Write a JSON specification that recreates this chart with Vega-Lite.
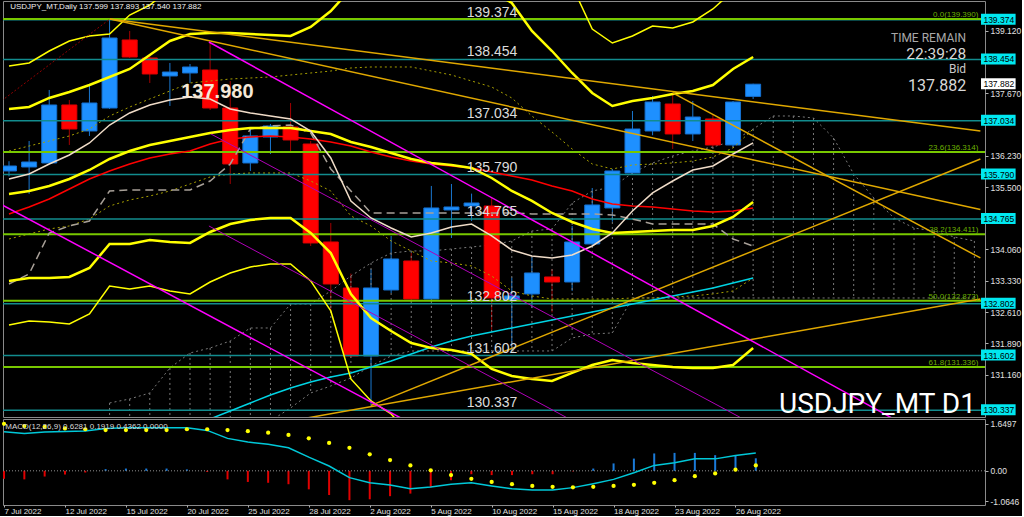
{
  "$schema": "https://vega.github.io/schema/vega-lite/v6.json",
  "background": "#000000",
  "padding": 0,
  "spacing": 2,
  "bounds": "flush",
  "config": {
    "view": {"stroke": "#8a8a8a", "strokeWidth": 1},
    "font": "Liberation Sans",
    "axis": {"grid": false, "domain": false, "labelColor": "#e0e0e0", "labelFont": "Liberation Sans", "labelFontSize": 8.5, "tickColor": "#b0b0b0", "tickSize": 3, "labelPadding": 2}
  },
  "datasets": {
    "bars": [
      {"i":0,"o":135.874,"h":136.1,"l":135.75,"c":135.989,"r":134.879,"w":135.689,"m":135.342,"u2":137.308,"l2":133.329,"u3":138.303,"l3":132.311,"s1":136.336,"s1n":134.3,"t":133.259},
      {"i":1,"o":135.966,"h":136.568,"l":135.342,"c":136.082,"r":135.041,"w":135.804,"m":135.411,"u2":137.354,"l2":133.398,"u3":138.373,"l3":132.403,"s1":136.452,"s1n":134.416,"t":133.491},
      {"i":2,"o":136.059,"h":137.748,"l":136.04,"c":137.401,"r":135.226,"w":136.036,"m":135.527,"u2":137.563,"l2":133.398,"u3":138.65,"l3":132.38,"s1":136.568,"s1n":134.532,"t":134.439},
      {"i":3,"o":137.401,"h":137.516,"l":136.475,"c":136.845,"r":135.457,"w":136.244,"m":135.689,"u2":137.701,"l2":133.421,"u3":138.882,"l3":132.334,"s1":136.684,"s1n":134.601,"t":134.601},
      {"i":4,"o":136.799,"h":137.887,"l":136.684,"c":137.447,"r":135.689,"w":136.522,"m":135.897,"u2":137.863,"l2":133.629,"u3":138.997,"l3":132.565,"s1":136.845,"s1n":134.763,"t":134.717},
      {"i":5,"o":137.331,"h":139.391,"l":137.308,"c":138.951,"r":135.874,"w":136.938,"m":136.151,"u2":138.049,"l2":134.185,"u3":139.043,"l3":133.213,"s1":137.146,"s1n":135.064,"t":135.411},
      {"i":6,"o":138.905,"h":139.113,"l":138.488,"c":138.511,"r":136.036,"w":137.216,"m":136.336,"u2":138.234,"l2":134.185,"u3":139.483,"l3":133.144,"s1":137.354,"s1n":135.203,"t":135.434},
      {"i":7,"o":138.488,"h":138.581,"l":137.91,"c":138.118,"r":136.174,"w":137.401,"m":136.475,"u2":138.557,"l2":134.277,"u3":139.714,"l3":133.213,"s1":137.54,"s1n":135.295,"t":135.434},
      {"i":8,"o":138.072,"h":138.373,"l":137.378,"c":138.164,"r":136.267,"w":137.516,"m":136.568,"u2":138.882,"l2":134.231,"u3":140.085,"l3":133.097,"s1":137.725,"s1n":135.411,"t":135.434,"cy":129.789},
      {"i":9,"o":138.141,"h":138.349,"l":137.91,"c":138.28,"r":136.336,"w":137.586,"m":136.66,"u2":139.043,"l2":134.208,"u3":140.339,"l3":133.028,"s1":137.91,"s1n":135.573,"t":135.434,"cy":129.974},
      {"i":10,"o":138.211,"h":138.858,"l":137.285,"c":137.331,"r":136.498,"w":137.54,"m":136.753,"u2":139.067,"l2":134.462,"u3":140.177,"l3":133.305,"s1":137.956,"s1n":135.735,"t":135.642,"cy":130.136},
      {"i":11,"o":137.331,"h":137.956,"l":135.573,"c":136.036,"r":136.614,"w":137.308,"m":136.822,"u2":139.067,"l2":134.647,"u3":140.27,"l3":133.514,"s1":138.002,"s1n":135.804,"t":136.036,"cy":130.321},
      {"i":12,"o":136.059,"h":136.845,"l":135.874,"c":136.684,"r":136.66,"w":137.216,"m":136.869,"u2":139.043,"l2":134.74,"u3":140.385,"l3":133.653,"s1":138.025,"s1n":135.827,"t":136.845,"cy":130.506},
      {"i":13,"o":136.66,"h":136.961,"l":136.267,"c":136.915,"r":136.684,"w":137.146,"m":136.869,"u2":139.02,"l2":134.786,"u3":140.432,"l3":133.722,"s1":138.049,"s1n":135.827,"t":136.915,"cy":130.691},
      {"i":14,"o":136.892,"h":137.447,"l":136.336,"c":136.591,"r":136.66,"w":137.077,"m":136.869,"u2":138.997,"l2":134.786,"u3":140.501,"l3":133.722,"s1":138.095,"s1n":135.827,"t":136.938,"cy":130.853},
      {"i":15,"o":136.498,"h":136.568,"l":134.138,"c":134.208,"r":136.614,"w":136.799,"m":136.799,"u2":139.205,"l2":134.439,"u3":140.339,"l3":133.329,"s1":138.141,"s1n":135.642,"t":136.753,"cy":130.992},
      {"i":16,"o":134.231,"h":134.671,"l":132.6,"c":133.259,"r":136.545,"w":136.174,"m":136.73,"u2":139.576,"l2":133.976,"u3":140.732,"l3":132.635,"s1":138.187,"s1n":135.411,"t":135.92,"cy":131.107},
      {"i":17,"o":133.167,"h":133.5,"l":131.55,"c":131.593,"r":136.452,"w":135.18,"m":136.545,"u2":140.085,"l2":133.028,"u3":141.195,"l3":131.061,"s1":138.257,"s1n":134.833,"t":135.411,"cy":131.2},
      {"i":18,"o":131.593,"h":133.6,"l":130.42,"c":133.167,"r":136.313,"w":134.786,"m":136.429,"u2":140.385,"l2":132.473,"u3":141.658,"l3":130.552,"s1":138.28,"s1n":134.601,"t":134.902,"cy":131.339},
      {"i":19,"o":133.12,"h":134.37,"l":133.05,"c":133.838,"r":136.198,"w":134.555,"m":136.29,"u2":140.409,"l2":132.172,"u3":142.121,"l3":130.251,"s1":138.28,"s1n":134.254,"t":134.902,"cy":131.478},
      {"i":20,"o":133.791,"h":133.976,"l":132.85,"c":132.912,"r":136.105,"w":134.347,"m":136.151,"u2":140.409,"l2":131.894,"u3":142.537,"l3":129.742,"s1":138.28,"s1n":134.023,"t":134.902,"cy":131.64},
      {"i":21,"o":132.912,"h":135.527,"l":132.866,"c":135.018,"r":136.036,"w":134.439,"m":136.059,"u2":140.339,"l2":131.778,"u3":142.583,"l3":129.65,"s1":138.187,"s1n":133.791,"t":134.902,"cy":131.802},
      {"i":22,"o":134.971,"h":135.573,"l":134.323,"c":135.041,"r":135.989,"w":134.578,"m":136.013,"u2":140.293,"l2":131.732,"u3":142.583,"l3":129.627,"s1":138.095,"s1n":133.745,"t":134.902,"cy":131.94},
      {"i":23,"o":135.064,"h":135.35,"l":134.717,"c":135.133,"r":135.943,"w":134.647,"m":135.943,"u2":140.247,"l2":131.64,"u3":142.583,"l3":129.511,"s1":137.956,"s1n":133.676,"t":134.902,"cy":132.056},
      {"i":24,"o":135.064,"h":135.272,"l":132.2,"c":132.935,"r":135.851,"w":134.37,"m":135.712,"u2":140.038,"l2":131.293,"u3":142.352,"l3":129.164,"s1":137.817,"s1n":133.444,"t":134.902,"cy":132.149},
      {"i":25,"o":132.889,"h":133.41,"l":131.7,"c":132.982,"r":135.758,"w":134.046,"m":135.411,"u2":139.761,"l2":131.131,"u3":141.82,"l3":129.002,"s1":137.563,"s1n":133.097,"t":134.902,"cy":132.241},
      {"i":26,"o":133.028,"h":133.88,"l":132.7,"c":133.514,"r":135.665,"w":133.907,"m":135.18,"u2":139.113,"l2":131.061,"u3":141.427,"l3":128.933,"s1":137.146,"s1n":132.982,"t":134.879,"cy":132.334},
      {"i":27,"o":133.421,"h":133.606,"l":132.6,"c":133.305,"r":135.527,"w":133.861,"m":134.902,"u2":138.65,"l2":131.015,"u3":140.732,"l3":128.933,"s1":136.776,"s1n":132.912,"t":134.879,"cy":132.426},
      {"i":28,"o":133.305,"h":134.6,"l":133.1,"c":134.231,"r":135.411,"w":133.93,"m":134.694,"u2":138.141,"l2":131.2,"u3":140.154,"l3":129.442,"s1":136.383,"s1n":132.912,"t":134.879,"cy":132.519},
      {"i":29,"o":134.185,"h":135.48,"l":134.1,"c":135.087,"r":135.226,"w":134.138,"m":134.532,"u2":137.678,"l2":131.385,"u3":139.159,"l3":129.858,"s1":136.036,"s1n":132.912,"t":134.879,"cy":132.611},
      {"i":30,"o":135.018,"h":135.92,"l":134.7,"c":135.874,"r":135.11,"w":134.439,"m":134.439,"u2":137.378,"l2":131.501,"u3":138.835,"l3":130.043,"s1":135.92,"s1n":132.912,"t":134.856,"cy":132.704},
      {"i":31,"o":135.827,"h":137.262,"l":135.8,"c":136.845,"r":135.064,"w":134.948,"m":134.462,"u2":137.493,"l2":131.431,"u3":138.997,"l3":129.974,"s1":136.013,"s1n":132.935,"t":134.763,"cy":132.796},
      {"i":32,"o":136.799,"h":137.609,"l":136.7,"c":137.47,"r":135.041,"w":135.365,"m":134.485,"u2":137.563,"l2":131.385,"u3":139.229,"l3":129.858,"s1":136.036,"s1n":132.935,"t":134.647,"cy":132.889},
      {"i":33,"o":137.424,"h":137.64,"l":136.383,"c":136.73,"r":134.995,"w":135.642,"m":134.509,"u2":137.655,"l2":131.339,"u3":139.182,"l3":129.766,"s1":136.059,"s1n":132.958,"t":134.647,"cy":132.982},
      {"i":34,"o":136.73,"h":137.493,"l":136.568,"c":137.123,"r":134.948,"w":135.897,"m":134.509,"u2":137.725,"l2":131.316,"u3":139.321,"l3":129.696,"s1":136.105,"s1n":132.982,"t":134.647,"cy":133.074},
      {"i":35,"o":137.077,"h":137.192,"l":136.406,"c":136.475,"r":134.925,"w":135.989,"m":134.601,"u2":137.863,"l2":131.316,"u3":139.622,"l3":129.858,"s1":136.198,"s1n":133.028,"t":134.647,"cy":133.167},
      {"i":36,"o":136.475,"h":137.493,"l":136.429,"c":137.47,"r":134.948,"w":136.267,"m":134.809,"u2":138.234,"l2":131.385,"u3":140.038,"l3":129.858,"s1":136.406,"s1n":133.097,"t":134.3,"cy":133.282},
      {"i":37,"o":137.599,"h":137.893,"l":137.54,"c":137.882,"r":135.018,"w":136.522,"m":135.156,"u2":138.511,"l2":131.778,"u3":140.385,"l3":130.089,"s1":136.845,"s1n":133.398,"t":134.138,"cy":133.398}
    ],
    "cloud": [
      {"i":5,"cu":130.506,"cl":129.627},{"i":6,"cu":130.598,"cl":129.627},{"i":7,"cu":130.737,"cl":129.627},{"i":8,"cu":131.316,"cl":129.627},{"i":9,"cu":131.663,"cl":129.627},{"i":10,"cu":131.778,"cl":129.627},{"i":11,"cu":131.94,"cl":129.627},{"i":12,"cu":132.241,"cl":129.858},{"i":13,"cu":132.241,"cl":130.089},{"i":14,"cu":132.796,"cl":130.39},{"i":15,"cu":132.796,"cl":130.737},{"i":16,"cu":133.097,"cl":130.899},{"i":17,"cu":133.444,"cl":131.084},{"i":18,"cu":133.745,"cl":131.362},{"i":19,"cu":133.976,"cl":131.593},{"i":20,"cu":134.023,"cl":131.709},{"i":21,"cu":134.023,"cl":131.709},{"i":22,"cu":134.069,"cl":131.709},{"i":23,"cu":134.115,"cl":131.709},{"i":24,"cu":134.162,"cl":131.709},{"i":25,"cu":134.254,"cl":131.709},{"i":26,"cu":134.485,"cl":131.709},{"i":27,"cu":134.532,"cl":131.709},{"i":28,"cu":135.133,"cl":132.01},{"i":29,"cu":135.411,"cl":132.102},{"i":30,"cu":135.504,"cl":132.126},{"i":31,"cu":135.827,"cl":132.935},{"i":32,"cu":136.059,"cl":132.935},{"i":33,"cu":136.221,"cl":132.935},{"i":34,"cu":136.336,"cl":132.935},{"i":35,"cu":136.429,"cl":132.935},{"i":36,"cu":136.568,"cl":132.935},{"i":37,"cu":136.845,"cl":132.935},{"i":38,"cu":137.146,"cl":132.935},{"i":39,"cu":137.146,"cl":132.935},{"i":40,"cu":137.1,"cl":132.935},{"i":41,"cu":136.637,"cl":132.935},{"i":42,"cu":135.804,"cl":132.935},{"i":43,"cu":135.249,"cl":132.935},{"i":44,"cu":134.786,"cl":132.935},{"i":45,"cu":134.555,"cl":132.935},{"i":46,"cu":134.485,"cl":132.935},{"i":47,"cu":134.347,"cl":132.935},{"i":48,"cu":134.254,"cl":132.935}
    ],
    "macd": [
      {"i":0,"macd":1.37,"sig":1.65,"hist":-0.28},{"i":1,"macd":1.31,"sig":1.57,"hist":-0.3},{"i":2,"macd":1.36,"sig":1.54,"hist":-0.2},{"i":3,"macd":1.38,"sig":1.49,"hist":-0.13},{"i":4,"macd":1.4,"sig":1.46,"hist":-0.06},{"i":5,"macd":1.49,"sig":1.43,"hist":0.06},{"i":6,"macd":1.51,"sig":1.43,"hist":0.08},{"i":7,"macd":1.51,"sig":1.43,"hist":0.08},{"i":8,"macd":1.51,"sig":1.43,"hist":0.08},{"i":9,"macd":1.51,"sig":1.46,"hist":0.05},{"i":10,"macd":1.42,"sig":1.46,"hist":-0.04},{"i":11,"macd":1.14,"sig":1.43,"hist":-0.3},{"i":12,"macd":1.01,"sig":1.39,"hist":-0.39},{"i":13,"macd":0.93,"sig":1.34,"hist":-0.42},{"i":14,"macd":0.81,"sig":1.26,"hist":-0.47},{"i":15,"macd":0.48,"sig":1.14,"hist":-0.65},{"i":16,"macd":0.17,"sig":0.98,"hist":-0.85},{"i":17,"macd":-0.24,"sig":0.81,"hist":-1.03},{"i":18,"macd":-0.42,"sig":0.58,"hist":-1.0},{"i":19,"macd":-0.5,"sig":0.38,"hist":-0.89},{"i":20,"macd":-0.63,"sig":0.19,"hist":-0.8},{"i":21,"macd":-0.57,"sig":0.02,"hist":-0.58},{"i":22,"macd":-0.47,"sig":-0.15,"hist":-0.33},{"i":23,"macd":-0.42,"sig":-0.28,"hist":-0.12},{"i":24,"macd":-0.53,"sig":-0.39,"hist":-0.15},{"i":25,"macd":-0.63,"sig":-0.47,"hist":-0.15},{"i":26,"macd":-0.67,"sig":-0.53,"hist":-0.12},{"i":27,"macd":-0.67,"sig":-0.56,"hist":-0.12},{"i":28,"macd":-0.59,"sig":-0.58,"hist":-0.02},{"i":29,"macd":-0.45,"sig":-0.56,"hist":0.08},{"i":30,"macd":-0.3,"sig":-0.53,"hist":0.26},{"i":31,"macd":-0.07,"sig":-0.49,"hist":0.43},{"i":32,"macd":0.19,"sig":-0.42,"hist":0.61},{"i":33,"macd":0.28,"sig":-0.33,"hist":0.63},{"i":34,"macd":0.42,"sig":-0.19,"hist":0.63},{"i":35,"macd":0.42,"sig":-0.09,"hist":0.55},{"i":36,"macd":0.54,"sig":0.04,"hist":0.55},{"i":37,"macd":0.63,"sig":0.19,"hist":0.44}
    ],
    "teal": [{"lv":139.374},{"lv":138.454},{"lv":137.034},{"lv":135.79},{"lv":134.765},{"lv":132.802},{"lv":131.602},{"lv":130.337}],
    "fib": [{"lv":139.39,"lab":"0.0(139.390)"},{"lv":136.314,"lab":"23.6(136.314)"},{"lv":134.411,"lab":"38.2(134.411)"},{"lv":132.873,"lab":"50.0(132.873)"},{"lv":131.336,"lab":"61.8(131.336)"}],
    "boxes": [{"lv":139.374,"k":"t"},{"lv":138.454,"k":"t"},{"lv":137.882,"k":"b"},{"lv":137.034,"k":"t"},{"lv":135.79,"k":"t"},{"lv":134.765,"k":"t"},{"lv":132.802,"k":"t"},{"lv":131.602,"k":"t"},{"lv":130.337,"k":"t"}],
    "gold": [
      {"id":"A","i":5.02,"p":139.391},{"id":"A","i":48.3,"p":134.98},
      {"id":"B","i":5.02,"p":139.391},{"id":"B","i":48.3,"p":136.799},
      {"id":"C","i":33,"p":137.681},{"id":"C","i":48.3,"p":133.861},
      {"id":"D","i":18,"p":130.45},{"id":"D","i":48.3,"p":136.151},
      {"id":"E","i":13.24,"p":130.029},{"id":"E","i":48.3,"p":132.912}
    ],
    "mag": [
      {"id":"M1","i":-1,"p":135.254},{"id":"M1","i":21,"p":129.781},
      {"id":"M2","i":9.94,"p":138.858},{"id":"M2","i":45,"p":129.876}
    ],
    "pur": [
      {"id":"P1","i":10.04,"p":136.73},{"id":"P1","i":37,"p":130.012},
      {"id":"P2","i":9.94,"p":134.601},{"id":"P2","i":28.5,"p":129.976}
    ],
    "rdot": [{"i":-1,"p":137.276},{"i":5.02,"p":139.391}],
    "one": [{}]
  },
  "vconcat": [
    {
      "width": 982,
      "height": 416,
      "resolve": {"axis": {"x": "independent", "y": "independent"}},
      "layer": [
        {
          "data": {"name": "bars"},
          "mark": {"type": "rule", "strokeWidth": 1, "clip": true},
          "encoding": {
            "x": {"field": "i", "type": "quantitative", "scale": {"domain": [-0.05, 48.28], "nice": false, "zero": false}, "axis": null},
            "y": {"field": "l", "type": "quantitative", "scale": {"domain": [130.181, 139.807], "nice": false, "zero": false},
                  "axis": {"orient": "right", "title": null, "values": [139.12, 137.67, 136.23, 135.5, 134.06, 133.33, 132.61, 131.89, 131.16], "labelExpr": "format(datum.value, '.3f')"}},
            "y2": {"field": "h"},
            "color": {"condition": {"test": "datum.c >= datum.o", "value": "#1a78d0"}, "value": "#a00000"}
          }
        },
        {
          "data": {"name": "cloud"},
          "mark": {"type": "rule", "color": "#7a7a7a", "strokeWidth": 1, "strokeDash": [2, 3], "clip": true},
          "encoding": {
            "x": {"field": "i", "type": "quantitative", "scale": {"domain": [-0.05, 48.28], "nice": false, "zero": false}, "axis": null},
            "y": {"field": "cu", "type": "quantitative", "scale": {"domain": [130.181, 139.807], "nice": false, "zero": false}, "axis": null},
            "y2": {"field": "cl"}
          }
        },
        {
          "data": {"name": "cloud"},
          "mark": {"type": "line", "color": "#7a7a7a", "strokeWidth": 1, "strokeDash": [2, 3], "clip": true},
          "encoding": {
            "x": {"field": "i", "type": "quantitative", "scale": {"domain": [-0.05, 48.28], "nice": false, "zero": false}, "axis": null},
            "y": {"field": "cu", "type": "quantitative", "scale": {"domain": [130.181, 139.807], "nice": false, "zero": false}, "axis": null}
          }
        },
        {
          "data": {"name": "cloud"},
          "mark": {"type": "line", "color": "#7a7a7a", "strokeWidth": 1, "strokeDash": [2, 3], "clip": true},
          "encoding": {
            "x": {"field": "i", "type": "quantitative", "scale": {"domain": [-0.05, 48.28], "nice": false, "zero": false}, "axis": null},
            "y": {"field": "cl", "type": "quantitative", "scale": {"domain": [130.181, 139.807], "nice": false, "zero": false}, "axis": null}
          }
        },
        {
          "data": {"name": "bars"},
          "mark": {"type": "bar", "width": 15, "strokeWidth": 1, "clip": true},
          "encoding": {
            "x": {"field": "i", "type": "quantitative", "scale": {"domain": [-0.05, 48.28], "nice": false, "zero": false}, "axis": null},
            "y": {"field": "o", "type": "quantitative", "scale": {"domain": [130.181, 139.807], "nice": false, "zero": false}, "axis": null},
            "y2": {"field": "c"},
            "fill": {"condition": {"test": "datum.c >= datum.o", "value": "#1e90ff"}, "value": "#ff0000"},
            "stroke": {"condition": {"test": "datum.c >= datum.o", "value": "#1570d0"}, "value": "#e00000"}
          }
        },
        {
          "data": {"name": "bars"},
          "mark": {"type": "line", "color": "#a8a000", "strokeWidth": 1, "strokeDash": [2, 3], "clip": true},
          "encoding": {
            "x": {"field": "i", "type": "quantitative", "scale": {"domain": [-0.05, 48.28], "nice": false, "zero": false}, "axis": null},
            "y": {"field": "s1", "type": "quantitative", "scale": {"domain": [130.181, 139.807], "nice": false, "zero": false}, "axis": null}
          }
        },
        {
          "data": {"name": "bars"},
          "mark": {"type": "line", "color": "#a8a000", "strokeWidth": 1, "strokeDash": [2, 3], "clip": true},
          "encoding": {
            "x": {"field": "i", "type": "quantitative", "scale": {"domain": [-0.05, 48.28], "nice": false, "zero": false}, "axis": null},
            "y": {"field": "s1n", "type": "quantitative", "scale": {"domain": [130.181, 139.807], "nice": false, "zero": false}, "axis": null}
          }
        },
        {
          "data": {"name": "teal"},
          "mark": {"type": "rule", "color": "#128c8e", "strokeWidth": 1.5},
          "encoding": {
            "y": {"field": "lv", "type": "quantitative", "scale": {"domain": [130.181, 139.807], "nice": false, "zero": false}, "axis": null}
          }
        },
        {
          "data": {"name": "fib"},
          "mark": {"type": "rule", "color": "#78c800", "strokeWidth": 2},
          "encoding": {
            "y": {"field": "lv", "type": "quantitative", "scale": {"domain": [130.181, 139.807], "nice": false, "zero": false}, "axis": null}
          }
        },
        {
          "data": {"name": "bars"},
          "mark": {"type": "line", "color": "#a8a098", "strokeWidth": 1.5, "strokeDash": [8, 5], "clip": true},
          "encoding": {
            "x": {"field": "i", "type": "quantitative", "scale": {"domain": [-0.05, 48.28], "nice": false, "zero": false}, "axis": null},
            "y": {"field": "t", "type": "quantitative", "scale": {"domain": [130.181, 139.807], "nice": false, "zero": false}, "axis": null}
          }
        },
        {
          "data": {"name": "bars"},
          "mark": {"type": "line", "color": "#ff0000", "strokeWidth": 1.5, "clip": true},
          "encoding": {
            "x": {"field": "i", "type": "quantitative", "scale": {"domain": [-0.05, 48.28], "nice": false, "zero": false}, "axis": null},
            "y": {"field": "r", "type": "quantitative", "scale": {"domain": [130.181, 139.807], "nice": false, "zero": false}, "axis": null}
          }
        },
        {
          "data": {"name": "bars"},
          "mark": {"type": "line", "color": "#00d4e4", "strokeWidth": 1.5, "clip": true},
          "encoding": {
            "x": {"field": "i", "type": "quantitative", "scale": {"domain": [-0.05, 48.28], "nice": false, "zero": false}, "axis": null},
            "y": {"field": "cy", "type": "quantitative", "scale": {"domain": [130.181, 139.807], "nice": false, "zero": false}, "axis": null}
          }
        },
        {
          "data": {"name": "bars"},
          "mark": {"type": "line", "color": "#ffff00", "strokeWidth": 1.5, "clip": true},
          "encoding": {
            "x": {"field": "i", "type": "quantitative", "scale": {"domain": [-0.05, 48.28], "nice": false, "zero": false}, "axis": null},
            "y": {"field": "u3", "type": "quantitative", "scale": {"domain": [130.181, 139.807], "nice": false, "zero": false}, "axis": null}
          }
        },
        {
          "data": {"name": "bars"},
          "mark": {"type": "line", "color": "#ffff00", "strokeWidth": 1.5, "clip": true},
          "encoding": {
            "x": {"field": "i", "type": "quantitative", "scale": {"domain": [-0.05, 48.28], "nice": false, "zero": false}, "axis": null},
            "y": {"field": "l3", "type": "quantitative", "scale": {"domain": [130.181, 139.807], "nice": false, "zero": false}, "axis": null}
          }
        },
        {
          "data": {"name": "bars"},
          "mark": {"type": "line", "color": "#ffff00", "strokeWidth": 2.5, "clip": true},
          "encoding": {
            "x": {"field": "i", "type": "quantitative", "scale": {"domain": [-0.05, 48.28], "nice": false, "zero": false}, "axis": null},
            "y": {"field": "u2", "type": "quantitative", "scale": {"domain": [130.181, 139.807], "nice": false, "zero": false}, "axis": null}
          }
        },
        {
          "data": {"name": "bars"},
          "mark": {"type": "line", "color": "#ffff00", "strokeWidth": 2.5, "clip": true},
          "encoding": {
            "x": {"field": "i", "type": "quantitative", "scale": {"domain": [-0.05, 48.28], "nice": false, "zero": false}, "axis": null},
            "y": {"field": "l2", "type": "quantitative", "scale": {"domain": [130.181, 139.807], "nice": false, "zero": false}, "axis": null}
          }
        },
        {
          "data": {"name": "bars"},
          "mark": {"type": "line", "color": "#ffff00", "strokeWidth": 2.5, "clip": true},
          "encoding": {
            "x": {"field": "i", "type": "quantitative", "scale": {"domain": [-0.05, 48.28], "nice": false, "zero": false}, "axis": null},
            "y": {"field": "m", "type": "quantitative", "scale": {"domain": [130.181, 139.807], "nice": false, "zero": false}, "axis": null}
          }
        },
        {
          "data": {"name": "bars"},
          "mark": {"type": "line", "color": "#f0dcc8", "strokeWidth": 1.5, "clip": true},
          "encoding": {
            "x": {"field": "i", "type": "quantitative", "scale": {"domain": [-0.05, 48.28], "nice": false, "zero": false}, "axis": null},
            "y": {"field": "w", "type": "quantitative", "scale": {"domain": [130.181, 139.807], "nice": false, "zero": false}, "axis": null}
          }
        },
        {
          "data": {"name": "gold"},
          "mark": {"type": "line", "color": "#e0a800", "strokeWidth": 1.5, "clip": true},
          "encoding": {
            "x": {"field": "i", "type": "quantitative", "scale": {"domain": [-0.05, 48.28], "nice": false, "zero": false}, "axis": null},
            "y": {"field": "p", "type": "quantitative", "scale": {"domain": [130.181, 139.807], "nice": false, "zero": false}, "axis": null},
            "detail": {"field": "id"}
          }
        },
        {
          "data": {"name": "mag"},
          "mark": {"type": "line", "color": "#ff00ff", "strokeWidth": 1.5, "clip": true},
          "encoding": {
            "x": {"field": "i", "type": "quantitative", "scale": {"domain": [-0.05, 48.28], "nice": false, "zero": false}, "axis": null},
            "y": {"field": "p", "type": "quantitative", "scale": {"domain": [130.181, 139.807], "nice": false, "zero": false}, "axis": null},
            "detail": {"field": "id"}
          }
        },
        {
          "data": {"name": "pur"},
          "mark": {"type": "line", "color": "#b000b8", "strokeWidth": 1, "clip": true},
          "encoding": {
            "x": {"field": "i", "type": "quantitative", "scale": {"domain": [-0.05, 48.28], "nice": false, "zero": false}, "axis": null},
            "y": {"field": "p", "type": "quantitative", "scale": {"domain": [130.181, 139.807], "nice": false, "zero": false}, "axis": null},
            "detail": {"field": "id"}
          }
        },
        {
          "data": {"name": "rdot"},
          "mark": {"type": "line", "color": "#900000", "strokeWidth": 1, "strokeDash": [2, 2], "clip": true},
          "encoding": {
            "x": {"field": "i", "type": "quantitative", "scale": {"domain": [-0.05, 48.28], "nice": false, "zero": false}, "axis": null},
            "y": {"field": "p", "type": "quantitative", "scale": {"domain": [130.181, 139.807], "nice": false, "zero": false}, "axis": null}
          }
        },
        {
          "data": {"name": "teal"},
          "mark": {"type": "text", "color": "#dcdcdc", "fontSize": 14, "align": "center", "baseline": "alphabetic", "dy": -3},
          "encoding": {
            "x": {"datum": 24.02, "type": "quantitative", "scale": {"domain": [-0.05, 48.28], "nice": false, "zero": false}, "axis": null},
            "y": {"field": "lv", "type": "quantitative", "scale": {"domain": [130.181, 139.807], "nice": false, "zero": false}, "axis": null},
            "text": {"field": "lv", "format": ".3f"}
          }
        },
        {
          "data": {"name": "fib"},
          "mark": {"type": "text", "color": "#6cb000", "fontSize": 8, "align": "right", "baseline": "alphabetic", "dy": -2},
          "encoding": {
            "x": {"datum": 48.2, "type": "quantitative", "scale": {"domain": [-0.05, 48.28], "nice": false, "zero": false}, "axis": null},
            "y": {"field": "lv", "type": "quantitative", "scale": {"domain": [130.181, 139.807], "nice": false, "zero": false}, "axis": null},
            "text": {"field": "lab"}
          }
        },
        {
          "data": {"name": "boxes"},
          "mark": {"type": "rect", "yOffset": -6, "y2Offset": 5},
          "encoding": {
            "x": {"datum": 48.33, "type": "quantitative", "scale": {"domain": [-0.05, 48.28], "nice": false, "zero": false}, "axis": null},
            "x2": {"datum": 50.05},
            "y": {"field": "lv", "type": "quantitative", "scale": {"domain": [130.181, 139.807], "nice": false, "zero": false}, "axis": null},
            "y2": {"field": "lv"},
            "fill": {"condition": {"test": "datum.k == 'b'", "value": "#ffffff"}, "value": "#00e8f0"}
          }
        },
        {
          "data": {"name": "boxes"},
          "mark": {"type": "text", "color": "#000000", "fontSize": 8.5, "align": "left", "baseline": "middle"},
          "encoding": {
            "x": {"datum": 48.45, "type": "quantitative", "scale": {"domain": [-0.05, 48.28], "nice": false, "zero": false}, "axis": null},
            "y": {"field": "lv", "type": "quantitative", "scale": {"domain": [130.181, 139.807], "nice": false, "zero": false}, "axis": null},
            "text": {"field": "lv", "format": ".3f"}
          }
        },
        {
          "data": {"name": "one"},
          "mark": {"type": "text", "text": "USDJPY_MT,Daily 137.599 137.893 137.540 137.882", "color": "#f0f0f0", "fontSize": 8, "align": "left", "baseline": "alphabetic"},
          "encoding": {
            "x": {"datum": 0.06, "type": "quantitative", "scale": {"domain": [-0.05, 48.28], "nice": false, "zero": false}, "axis": null},
            "y": {"datum": 139.622, "type": "quantitative", "scale": {"domain": [130.181, 139.807], "nice": false, "zero": false}, "axis": null}
          }
        },
        {
          "data": {"name": "one"},
          "mark": {"type": "text", "text": "137.980", "color": "#f5e8d8", "fontSize": 20, "fontWeight": "bold", "align": "center", "baseline": "alphabetic"},
          "encoding": {
            "x": {"datum": 10.36, "type": "quantitative", "scale": {"domain": [-0.05, 48.28], "nice": false, "zero": false}, "axis": null},
            "y": {"datum": 137.563, "type": "quantitative", "scale": {"domain": [130.181, 139.807], "nice": false, "zero": false}, "axis": null}
          }
        },
        {
          "data": {"name": "one"},
          "mark": {"type": "text", "text": "TIME REMAIN", "color": "#a8a8a8", "font": "Roboto", "fontSize": 12, "align": "right", "baseline": "alphabetic"},
          "encoding": {
            "x": {"datum": 47.59, "type": "quantitative", "scale": {"domain": [-0.05, 48.28], "nice": false, "zero": false}, "axis": null},
            "y": {"datum": 138.86, "type": "quantitative", "scale": {"domain": [130.181, 139.807], "nice": false, "zero": false}, "axis": null}
          }
        },
        {
          "data": {"name": "one"},
          "mark": {"type": "text", "text": "22:39:28", "color": "#d8d8d8", "font": "Roboto", "fontSize": 15.5, "align": "right", "baseline": "alphabetic"},
          "encoding": {
            "x": {"datum": 47.59, "type": "quantitative", "scale": {"domain": [-0.05, 48.28], "nice": false, "zero": false}, "axis": null},
            "y": {"datum": 138.47, "type": "quantitative", "scale": {"domain": [130.181, 139.807], "nice": false, "zero": false}, "axis": null}
          }
        },
        {
          "data": {"name": "one"},
          "mark": {"type": "text", "text": "Bid", "color": "#c8c8c8", "font": "Roboto", "fontSize": 12, "align": "right", "baseline": "alphabetic"},
          "encoding": {
            "x": {"datum": 47.59, "type": "quantitative", "scale": {"domain": [-0.05, 48.28], "nice": false, "zero": false}, "axis": null},
            "y": {"datum": 138.13, "type": "quantitative", "scale": {"domain": [130.181, 139.807], "nice": false, "zero": false}, "axis": null}
          }
        },
        {
          "data": {"name": "one"},
          "mark": {"type": "text", "text": "137.882", "color": "#d8d8d8", "font": "Roboto", "fontSize": 16, "align": "right", "baseline": "alphabetic"},
          "encoding": {
            "x": {"datum": 47.59, "type": "quantitative", "scale": {"domain": [-0.05, 48.28], "nice": false, "zero": false}, "axis": null},
            "y": {"datum": 137.72, "type": "quantitative", "scale": {"domain": [130.181, 139.807], "nice": false, "zero": false}, "axis": null}
          }
        },
        {
          "data": {"name": "one"},
          "mark": {"type": "text", "text": "USDJPY_MT D1", "color": "#ffffff", "font": "Roboto", "fontSize": 28, "align": "right", "baseline": "alphabetic"},
          "encoding": {
            "x": {"datum": 48.08, "type": "quantitative", "scale": {"domain": [-0.05, 48.28], "nice": false, "zero": false}, "axis": null},
            "y": {"datum": 130.275, "type": "quantitative", "scale": {"domain": [130.181, 139.807], "nice": false, "zero": false}, "axis": null}
          }
        }
      ]
    },
    {
      "width": 982,
      "height": 86,
      "resolve": {"axis": {"x": "independent", "y": "independent"}},
      "layer": [
        {
          "data": {"name": "macd"},
          "mark": {"type": "rule", "strokeWidth": 2},
          "encoding": {
            "x": {"field": "i", "type": "quantitative", "scale": {"domain": [-0.05, 48.28], "nice": false, "zero": false},
                  "axis": {"orient": "bottom", "title": null, "values": [0, 3, 6, 9, 12, 15, 18, 21, 24, 27, 30, 33, 36], "tickSize": 2, "labelPadding": 0, "labelFontSize": 8, "labelAlign": "left", "labelBound": false, "labelFlush": false, "labelOverlap": false,
                           "labelExpr": "['7 Jul 2022','12 Jul 2022','15 Jul 2022','20 Jul 2022','25 Jul 2022','28 Jul 2022','2 Aug 2022','5 Aug 2022','10 Aug 2022','15 Aug 2022','18 Aug 2022','23 Aug 2022','26 Aug 2022'][round(datum.value/3)]"}},
            "y": {"field": "hist", "type": "quantitative", "scale": {"domain": [-1.2, 1.82], "nice": false, "zero": false},
                  "axis": {"orient": "right", "title": null, "values": [1.6497, 0, -1.0646], "labelExpr": "datum.value == 0 ? '0.00' : (datum.value < 0 ? '-' + format(-datum.value, '.4f') : format(datum.value, '.4f'))"}},
            "y2": {"datum": 0},
            "color": {"condition": {"test": "datum.hist >= 0", "value": "#1a7ad8"}, "value": "#e00000"}
          }
        },
        {
          "data": {"name": "one"},
          "mark": {"type": "rule", "color": "#909090", "strokeDash": [1, 2], "strokeWidth": 1},
          "encoding": {
            "y": {"datum": 0, "type": "quantitative", "scale": {"domain": [-1.2, 1.82], "nice": false, "zero": false}, "axis": null}
          }
        },
        {
          "data": {"name": "macd"},
          "mark": {"type": "line", "color": "#00c8d8", "strokeWidth": 1.5},
          "encoding": {
            "x": {"field": "i", "type": "quantitative", "scale": {"domain": [-0.05, 48.28], "nice": false, "zero": false}, "axis": null},
            "y": {"field": "macd", "type": "quantitative", "scale": {"domain": [-1.2, 1.82], "nice": false, "zero": false}, "axis": null}
          }
        },
        {
          "data": {"name": "macd"},
          "mark": {"type": "circle", "color": "#ffff00", "size": 18, "opacity": 1},
          "encoding": {
            "x": {"field": "i", "type": "quantitative", "scale": {"domain": [-0.05, 48.28], "nice": false, "zero": false}, "axis": null},
            "y": {"field": "sig", "type": "quantitative", "scale": {"domain": [-1.2, 1.82], "nice": false, "zero": false}, "axis": null}
          }
        },
        {
          "data": {"name": "one"},
          "mark": {"type": "text", "text": "MACD(12,26,9) 0.6281 0.1919 0.4362 0.0000", "color": "#d8d8d8", "fontSize": 8, "align": "left", "baseline": "alphabetic"},
          "encoding": {
            "x": {"datum": 0.06, "type": "quantitative", "scale": {"domain": [-0.05, 48.28], "nice": false, "zero": false}, "axis": null},
            "y": {"datum": 1.47, "type": "quantitative", "scale": {"domain": [-1.2, 1.82], "nice": false, "zero": false}, "axis": null}
          }
        }
      ]
    }
  ]
}
